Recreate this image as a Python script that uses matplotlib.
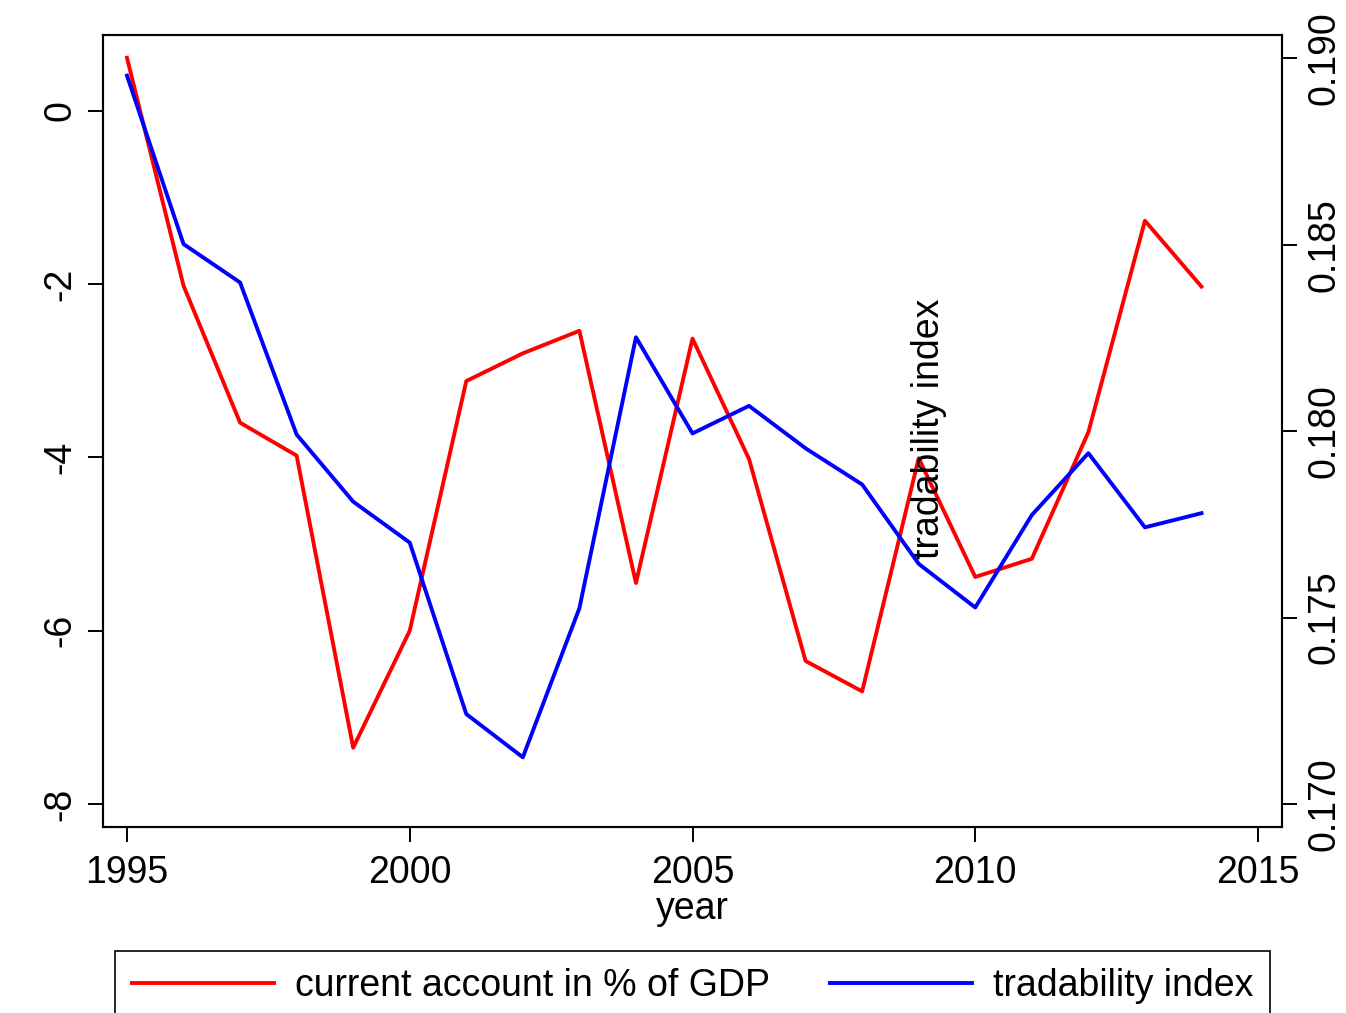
import matplotlib
matplotlib.use("Agg")
import matplotlib.pyplot as plt
import numpy as np

plt.rcParams['font.family'] = ['Liberation Sans', 'DejaVu Sans']

# yearly series
years = list(range(1995, 2015))
current_account = [0.61, -2.02, -3.60, -3.98, -7.35, -6.00, -3.12, -2.80, -2.54, -5.45,
                   -2.63, -4.02, -6.35, -6.70, -4.01, -5.38, -5.17, -3.71, -1.27, -2.03]
tradability = [0.18954, 0.18502, 0.18399, 0.17991, 0.17811, 0.17701, 0.17241, 0.17125,
               0.17525, 0.18252, 0.17994, 0.18068, 0.17954, 0.17857, 0.17644, 0.17527,
               0.17775, 0.17941, 0.17742, 0.17780]

x_ticks = [1995, 2000, 2005, 2010, 2015]
left_ticks = [-8, -6, -4, -2, 0]
right_ticks = [0.170, 0.175, 0.180, 0.185, 0.190]

W, H = 1346, 1013
fig = plt.figure(figsize=(W / 100, H / 100), dpi=100)
ax = fig.add_axes([103 / W, (H - 827) / H, (1282 - 103) / W, (827 - 35) / H])
ax2 = ax.twinx()

fs = 27
l1, = ax.plot(years, current_account, color='#ff0000', lw=2.8)
l2, = ax2.plot(years, tradability, color='#0000ff', lw=2.8)

ax.set_xlim(1994.576, 2015.424)
ax.set_ylim(-8.265, 0.873)
ax2.set_ylim(0.16938, 0.19063)

ax.set_xticks(x_ticks)
ax.set_xticklabels([str(v) for v in x_ticks], fontsize=fs)
ax.set_yticks(left_ticks)
ax.set_yticklabels([str(v) for v in left_ticks], fontsize=fs, rotation=90, va='center')
ax2.set_yticks(right_ticks)
ax2.set_yticklabels(['%.3f' % v for v in right_ticks], fontsize=fs, rotation=90, va='center')

for a in (ax, ax2):
    a.tick_params(length=11, width=1.4, color='black', pad=7)
    for s in a.spines.values():
        s.set_linewidth(1.5)
ax.tick_params(axis='x', pad=9)

ax.set_xlabel('year', fontsize=fs, labelpad=0)
ax.text(0.701, 0.5025, 'tradability index', transform=ax.transAxes, rotation=90,
        ha='center', va='center', fontsize=fs)

leg = fig.legend([l1, l2], ['current account in % of GDP', 'tradability index'],
                 loc='center', bbox_to_anchor=((115 + 1270) / 2 / W, (H - 986) / H),
                 ncol=2, fontsize=fs, handlelength=3.8, handletextpad=0.55,
                 columnspacing=1.6, borderpad=0.45, fancybox=False, framealpha=1,
                 edgecolor='black', borderaxespad=0)
leg.get_frame().set_linewidth(1.2)

fig.savefig('out.png', dpi=100)
